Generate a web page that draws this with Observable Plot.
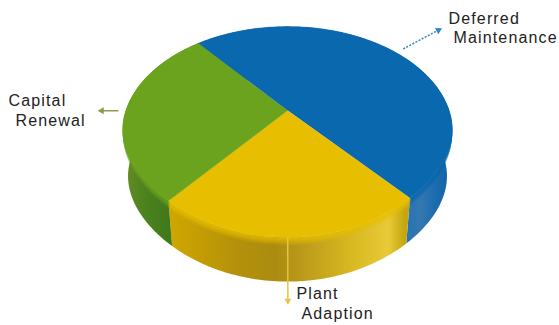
<!DOCTYPE html>
<html>
<head>
<meta charset="utf-8">
<script src="https://cdn.jsdelivr.net/npm/d3@7"></script>
<script src="https://cdn.jsdelivr.net/npm/@observablehq/plot@0.6"></script>
<style>
  html, body { margin: 0; padding: 0; background: #fff; }
  svg { display: block; }
</style>
</head>
<body>
<div id="chart"></div>
<script>
// Budget shares
const categories = ["Deferred Maintenance", "Plant Adaption", "Capital Renewal"];
const shares = [49.6, 22.4, 28];

// Slice styling
const topColors = ["#0a68ae", "#e7bf00", "#6ba31f"];
const sideStops = [
  [[400, "#2272b4"], [420, "#3478b0"], [435, "#1a6cb0"], [456, "#115f9e"]],
  [[172, "#cfa600"], [235, "#b4910a"], [275, "#ab8c10"], [305, "#bd9c1c"], [350, "#d8b820"], [388, "#e8ca38"], [404, "#c6a60e"]],
  [[122, "#6c8f22"], [140, "#4f8420"], [160, "#437c1c"], [176, "#3f7619"]]
];
const arrowColors = ["#2f86c4", "#e8c440", "#8f9a50"];

// Label text, one entry per line
const labelText = ["Deferred", "Maintenance", "Capital", "Renewal", "Plant", "Adaption"];
const labelX = [448, 453, 8, 15, 296, 301];
const labelY = [23, 42, 105, 125, 298, 318];

// Leaders: length along each slice's middle direction, as multiples of the rim
// radius, and a small turn in degrees away from that direction
const leaderStart = [1.065, 1.0, 1.046];
const leaderEnd = [1.39, 1.5, 1.15];
const leaderTurn = [0, 0.75, 0];

// Tilted disc: circle seen in perspective, with its centre and thickness on the page.
// The near half of the rim is pulled in slightly on its diagonals.
const cx = 287, cy = 110, rx = 161.5, ry = 101, tilt = 0.204, depth = 48, taper = 0.03, pull = 0.025;
function project(angle, r, z) {
  const near = Math.cos(angle) < 0 ? pull * Math.sin(2 * angle) ** 2 : 0;
  const u = r * Math.sin(angle), v = -r * Math.cos(angle);
  const w = 1 - tilt * v, s = (1 - taper * z) * (1 - near);
  return [cx + s * rx * u / w, cy + s * ry * v / w + depth * z];
}
const pie = d3.pie().sort(null)
  .startAngle(-39.7 * Math.PI / 180)
  .endAngle((360 - 39.7) * Math.PI / 180)(shares);

function arc(a0, a1, z) {
  const n = Math.max(2, Math.ceil((a1 - a0) / 0.02));
  return d3.range(n + 1).map(i => project(a0 + (a1 - a0) * i / n, 1, z));
}

const defs = () => {
  const d = d3.create("svg:defs");
  sideStops.forEach((stops, i) => {
    const g = d.append("linearGradient").attr("id", `side${i}`)
      .attr("gradientUnits", "userSpaceOnUse")
      .attr("x1", stops[0][0]).attr("x2", stops.at(-1)[0]).attr("y1", 0).attr("y2", 0);
    const span = stops.at(-1)[0] - stops[0][0];
    stops.forEach(([x, c]) => g.append("stop").attr("offset", (x - stops[0][0]) / span).attr("stop-color", c));
  });
  return d.node();
};

const xy = {x: d => d[0], y: d => d[1]};
const sides = pie.map((p, i) => Plot.line(
  [...arc(p.startAngle, p.endAngle, 0), ...arc(p.startAngle, p.endAngle, 1).reverse()],
  {...xy, fill: `url(#side${i})`, stroke: "none"}
));
// Soft bevel where the top face rolls over into the side
const bevel = pie.flatMap((p, i) => d3.range(1, 9).map(k => Plot.line(
  arc(p.startAngle, p.endAngle, k / depth),
  {...xy, stroke: topColors[i], strokeWidth: 1.6, strokeOpacity: 0.7 * (1 - k / 9)}
)));
const tops = pie.map((p, i) => Plot.line(
  [[cx, cy], ...arc(p.startAngle, p.endAngle, 0)],
  {...xy, fill: topColors[i], stroke: topColors[i], strokeWidth: 0.5}
));

const leaders = pie.map((p, i) => {
  const mid = (p.startAngle + p.endAngle) / 2 + leaderTurn[i] * Math.PI / 180;
  const [rimX, rimY] = project(mid, 1, 0);
  const x2 = cx + (rimX - cx) * leaderEnd[i], y2 = cy + (rimY - cy) * leaderEnd[i];
  const x1 = cx + (rimX - cx) * leaderStart[i], y1 = cy + (rimY - cy) * leaderStart[i];
  return {
    x1, y1, x2, y2,
    color: arrowColors[i],
    dash: i === 0 ? "2,1.5" : "none",
    heading: Math.atan2(x2 - x1, y1 - y2) * 180 / Math.PI
  };
});
const arrowLines = leaders.map(l => Plot.link([l], {
  x1: "x1", y1: "y1", x2: "x2", y2: "y2",
  stroke: l.color, strokeWidth: 1.5, strokeDasharray: l.dash
}));
const arrowHeads = leaders.map(l => Plot.dot([l], {
  x: "x2", y: "y2", symbol: "triangle", r: 2.6,
  rotate: l.heading, fill: l.color, stroke: "none"
}));

const labels = Plot.text(labelText.map((t, i) => ({t, x: labelX[i], y: labelY[i]})), {
  x: "x", y: "y", text: "t",
  textAnchor: "start", lineAnchor: "bottom",
  fontFamily: "Liberation Sans", fontSize: 16, fill: "#222"
});

const chart = Plot.plot({
  width: 559,
  height: 325,
  margin: 0,
  x: {domain: [0, 559], axis: null},
  y: {domain: [325, 0], axis: null},
  style: {background: "#fff", letterSpacing: "1.15px"},
  marks: [defs, ...sides, ...bevel, ...tops, ...arrowLines, ...arrowHeads, labels]
});
document.getElementById("chart").append(chart);
</script>
</body>
</html>
